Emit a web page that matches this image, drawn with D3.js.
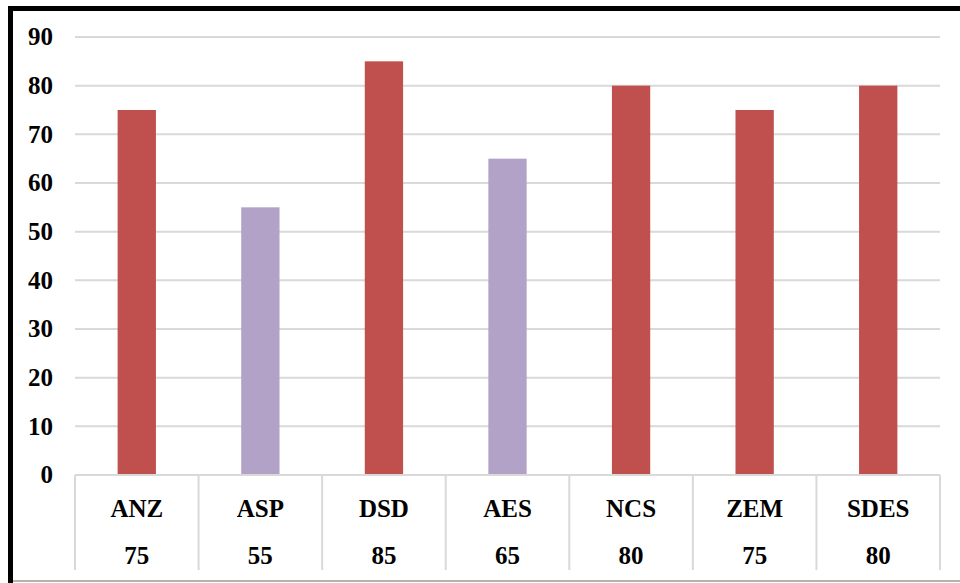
<!DOCTYPE html>
<html>
<head>
<meta charset="utf-8">
<script src="https://cdn.jsdelivr.net/npm/d3@7"></script>
<style>
  html, body { margin: 0; padding: 0; background: #fff; }
  svg { display: block; }
  text { font-family: "Liberation Serif", "Times New Roman", serif; font-weight: bold; fill: #000; }
</style>
</head>
<body>
<div id="chart"></div>
<script>
// data
const categories = ['ANZ', 'ASP', 'DSD', 'AES', 'NCS', 'ZEM', 'SDES'];
const values = [75, 55, 85, 65, 80, 75, 80];
const barColors = ['#C0504D', '#B3A2C7', '#C0504D', '#B3A2C7', '#C0504D', '#C0504D', '#C0504D'];
const yTicks = [0, 10, 20, 30, 40, 50, 60, 70, 80, 90];

const width = 960, height = 583;
const plot = {left: 75, right: 940, top: 37, bottom: 475};

const svg = d3.select('#chart').append('svg')
  .attr('width', width)
  .attr('height', height);

// frame: thick black on top/left, thin grey at the bottom
svg.append('rect').attr('x', 0).attr('y', 0).attr('width', width).attr('height', height).attr('fill', '#fff');
svg.append('line').attr('x1', 8).attr('x2', width).attr('y1', 8.5).attr('y2', 8.5)
  .attr('stroke', '#000').attr('stroke-width', 5);
svg.append('line').attr('x1', 10.5).attr('x2', 10.5).attr('y1', 6).attr('y2', height)
  .attr('stroke', '#000').attr('stroke-width', 5);
svg.append('line').attr('x1', 13).attr('x2', width).attr('y1', 581).attr('y2', 581)
  .attr('stroke', '#999').attr('stroke-width', 1.5);

const x = d3.scaleBand()
  .domain(categories)
  .range([plot.left, plot.right])
  .paddingInner(0.69)
  .paddingOuter(0.345);

const xOuter = d3.scaleBand()
  .domain(categories)
  .range([plot.left, plot.right]);

const y = d3.scaleLinear()
  .domain([0, 90])
  .range([plot.bottom, plot.top]);

// gridlines
svg.append('g')
  .selectAll('line')
  .data(yTicks.filter(d => d > 0))
  .join('line')
  .attr('x1', plot.left)
  .attr('x2', plot.right)
  .attr('y1', d => y(d))
  .attr('y2', d => y(d))
  .attr('stroke', '#D9D9D9')
  .attr('stroke-width', 2);

// y tick labels
svg.append('g')
  .selectAll('text')
  .data(yTicks)
  .join('text')
  .attr('x', 53)
  .attr('y', d => y(d))
  .attr('dy', '0.33em')
  .attr('text-anchor', 'end')
  .attr('font-size', 25)
  .text(d => d);

// bars
svg.append('g')
  .selectAll('rect')
  .data(values)
  .join('rect')
  .attr('x', (d, i) => x(categories[i]))
  .attr('y', d => y(d))
  .attr('width', x.bandwidth())
  .attr('height', d => y(0) - y(d))
  .attr('fill', (d, i) => barColors[i]);

// data table under the axis
const tableBottom = 570;
svg.append('line')
  .attr('x1', plot.left).attr('x2', plot.right)
  .attr('y1', plot.bottom).attr('y2', plot.bottom)
  .attr('stroke', '#D9D9D9').attr('stroke-width', 2);

const edges = categories.map(c => xOuter(c)).concat([plot.right]);
svg.append('g')
  .selectAll('line')
  .data(edges)
  .join('line')
  .attr('x1', d => d).attr('x2', d => d)
  .attr('y1', plot.bottom).attr('y2', tableBottom)
  .attr('stroke', '#D9D9D9').attr('stroke-width', 2);

svg.append('g')
  .selectAll('text')
  .data(categories)
  .join('text')
  .attr('x', d => xOuter(d) + xOuter.bandwidth() / 2)
  .attr('y', 509)
  .attr('dy', '0.33em')
  .attr('text-anchor', 'middle')
  .attr('font-size', 25)
  .text(d => d);

svg.append('g')
  .selectAll('text')
  .data(values)
  .join('text')
  .attr('x', (d, i) => xOuter(categories[i]) + xOuter.bandwidth() / 2)
  .attr('y', 556)
  .attr('dy', '0.33em')
  .attr('text-anchor', 'middle')
  .attr('font-size', 25)
  .text(d => d);
</script>
</body>
</html>
